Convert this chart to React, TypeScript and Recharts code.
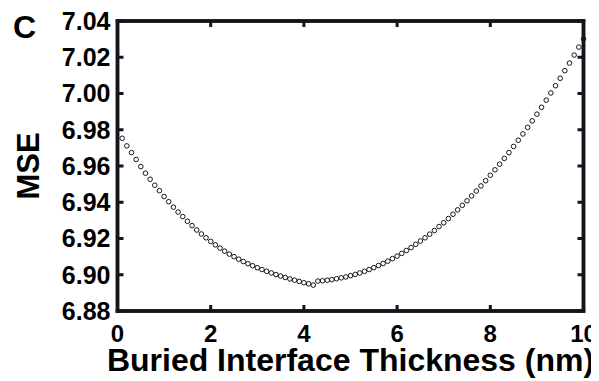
import React from 'react';
import { ScatterChart, Scatter, XAxis, YAxis } from 'recharts';

const thickness = [
  0.1, 0.2, 0.3, 0.4, 0.5, 0.6, 0.7, 0.8, 0.9, 1.0,
  1.1, 1.2, 1.3, 1.4, 1.5, 1.6, 1.7, 1.8, 1.9, 2.0,
  2.1, 2.2, 2.3, 2.4, 2.5, 2.6, 2.7, 2.8, 2.9, 3.0,
  3.1, 3.2, 3.3, 3.4, 3.5, 3.6, 3.7, 3.8, 3.9, 4.0,
  4.1, 4.2, 4.3, 4.4, 4.5, 4.6, 4.7, 4.8, 4.9, 5.0,
  5.1, 5.2, 5.3, 5.4, 5.5, 5.6, 5.7, 5.8, 5.9, 6.0,
  6.1, 6.2, 6.3, 6.4, 6.5, 6.6, 6.7, 6.8, 6.9, 7.0,
  7.1, 7.2, 7.3, 7.4, 7.5, 7.6, 7.7, 7.8, 7.9, 8.0,
  8.1, 8.2, 8.3, 8.4, 8.5, 8.6, 8.7, 8.8, 8.9, 9.0,
  9.1, 9.2, 9.3, 9.4, 9.5, 9.6, 9.7, 9.8, 9.9, 10.0,
];

const mse = [
  6.9753, 6.9711, 6.9674, 6.9636, 6.9597, 6.956, 6.9527, 6.9494, 6.9464, 6.9432,
  6.9403, 6.9373, 6.9346, 6.9321, 6.9295, 6.9271, 6.9247, 6.9225, 6.9204, 6.9184,
  6.9165, 6.9147, 6.913, 6.9114, 6.91, 6.9086, 6.9073, 6.9061, 6.905, 6.9039,
  6.9029, 6.9019, 6.901, 6.9001, 6.8993, 6.8985, 6.8977, 6.897, 6.8963, 6.8956,
  6.895, 6.8943, 6.8965, 6.8967, 6.897, 6.8973, 6.8978, 6.8983, 6.8988, 6.8995,
  6.9002, 6.901, 6.9019, 6.9029, 6.9039, 6.9051, 6.9062, 6.9075, 6.9089, 6.9103,
  6.9118, 6.9134, 6.915, 6.9168, 6.9186, 6.9204, 6.9224, 6.9244, 6.9266, 6.9287,
  6.931, 6.9334, 6.9358, 6.9383, 6.9408, 6.9435, 6.9462, 6.949, 6.9519, 6.9549,
  6.9579, 6.961, 6.9642, 6.9674, 6.9708, 6.9742, 6.9777, 6.9813, 6.9849, 6.9886,
  6.9924, 6.9963, 7.0003, 7.0043, 7.0084, 7.0126, 7.0168, 7.0212, 7.0256, 7.0301,
];

const xTicks = [0, 2, 4, 6, 8, 10];
const yTicks = [6.88, 6.9, 6.92, 6.94, 6.96, 6.98, 7.0, 7.02, 7.04];
const xDomain = [0, 10];
const yDomain = [6.88, 7.04];

const data = thickness.map((t, i) => ({ t, mse: mse[i] }));

// chart layout
const W = 591;
const H = 373;
const MARGIN = { top: 13, right: 15.5, bottom: 0, left: 0 };
const Y_AXIS_W = 109.5;
const X_AXIS_H = 70;
const PLOT = {
  left: MARGIN.left + Y_AXIS_W,
  right: W - MARGIN.right,
  top: MARGIN.top,
  bottom: H - MARGIN.bottom - X_AXIS_H,
};
// same linear mapping as the chart's axes (used only for the frame and inward ticks)
const fx = (v: number) =>
  PLOT.left + ((v - xDomain[0]) / (xDomain[1] - xDomain[0])) * (PLOT.right - PLOT.left);
const fy = (v: number) =>
  PLOT.bottom - ((v - yDomain[0]) / (yDomain[1] - yDomain[0])) * (PLOT.bottom - PLOT.top);

const FONT = '"Liberation Sans", Arial, Helvetica, sans-serif';
const tickFont = { fontFamily: FONT, fontWeight: 700, fontSize: 24, fill: '#000', stroke: 'none' };
const yTickFont = { fontFamily: FONT, fontWeight: 700, fontSize: 25, fill: '#000', stroke: 'none' };
const AXIS_COLOR = '#14141c';
const TICK_LEN = 6;
const TICK_W = 3;
const FRAME_W = 3.5;

const OpenCircle = (props: any) => (
  <circle cx={props.cx} cy={props.cy} r={2.3} fill="none" stroke="#000" strokeWidth={0.9} />
);

const YTitle = (props: any) => {
  const vb = props.viewBox || { x: 0, y: 0, width: 0, height: 0 };
  const cx = vb.x + 20;
  const cy = vb.y + vb.height / 2;
  return (
    <text
      x={cx}
      y={cy}
      transform={`rotate(-90, ${cx}, ${cy})`}
      textAnchor="middle"
      dominantBaseline="central"
      fontFamily={FONT}
      fontWeight={700}
      fontSize={31}
      fill="#000"
    >
      MSE
    </text>
  );
};

const XTitle = (props: any) => {
  const vb = props.viewBox || { x: 0, y: 0, width: 0, height: 0 };
  return (
    <text
      x={vb.x + vb.width / 2}
      y={vb.y + vb.height - 10}
      textAnchor="middle"
      fontFamily={FONT}
      fontWeight={700}
      fontSize={32}
      fill="#000"
    >
      Buried Interface Thickness (nm)
    </text>
  );
};

function Frame() {
  const l = fx(xDomain[0]);
  const r = fx(xDomain[1]);
  const t = fy(yDomain[1]);
  const b = fy(yDomain[0]);
  const hw = FRAME_W / 2;
  return (
    <svg
      width={W}
      height={H}
      style={{ position: 'absolute', left: 0, top: 0, pointerEvents: 'none', zIndex: 10 }}
    >
      <path
        d={`M${l},${b} L${r},${b} L${r},${t} L${l},${t} Z`}
        fill="none"
        stroke={AXIS_COLOR}
        strokeWidth={FRAME_W}
        strokeLinejoin="miter"
      />
      <rect x={l - hw} y={b - hw} width={r - l + FRAME_W} height={FRAME_W} fill={AXIS_COLOR} />
      <rect x={l - hw} y={t - hw} width={r - l + FRAME_W} height={FRAME_W} fill={AXIS_COLOR} />
      <rect x={l - hw} y={t - hw} width={FRAME_W} height={b - t + FRAME_W} fill={AXIS_COLOR} />
      <rect x={r - hw} y={t - hw} width={FRAME_W} height={b - t + FRAME_W} fill={AXIS_COLOR} />
      {xTicks.map((v) => (
        <g key={`x${v}`}>
          <rect x={fx(v) - TICK_W / 2} y={b - TICK_LEN} width={TICK_W} height={TICK_LEN} fill={AXIS_COLOR} />
          <rect x={fx(v) - TICK_W / 2} y={t} width={TICK_W} height={TICK_LEN} fill={AXIS_COLOR} />
        </g>
      ))}
      {yTicks.map((v) => (
        <g key={`y${v}`}>
          <rect x={l} y={fy(v) - TICK_W / 2} width={TICK_LEN} height={TICK_W} fill={AXIS_COLOR} />
          <rect x={r - TICK_LEN} y={fy(v) - TICK_W / 2} width={TICK_LEN} height={TICK_W} fill={AXIS_COLOR} />
        </g>
      ))}
      <text x={5} y={30} fontFamily={FONT} fontWeight={700} fontSize={32} fill="#000">
        C
      </text>
    </svg>
  );
}

export default function App() {
  return (
    <div style={{ position: 'relative', width: W, height: H }}>
      <ScatterChart width={W} height={H} margin={MARGIN}>
        <XAxis
          xAxisId="b"
          dataKey="t"
          type="number"
          domain={xDomain}
          ticks={xTicks}
          orientation="bottom"
          height={X_AXIS_H}
          tickSize={0}
          tickMargin={14}
          axisLine={false}
          tickLine={false}
          tick={tickFont}
          label={<XTitle />}
        />
        <YAxis
          yAxisId="l"
          dataKey="mse"
          type="number"
          domain={yDomain}
          ticks={yTicks}
          orientation="left"
          width={Y_AXIS_W}
          tickSize={0}
          tickMargin={7}
          axisLine={false}
          tickLine={false}
          tick={yTickFont}
          tickFormatter={(v: number) => v.toFixed(2)}
          interval={0}
          label={<YTitle />}
        />
        <Scatter
          name="mse"
          data={data}
          xAxisId="b"
          yAxisId="l"
          dataKey="mse"
          shape={OpenCircle}
          isAnimationActive={false}
        />
      </ScatterChart>
      <Frame />
    </div>
  );
}
